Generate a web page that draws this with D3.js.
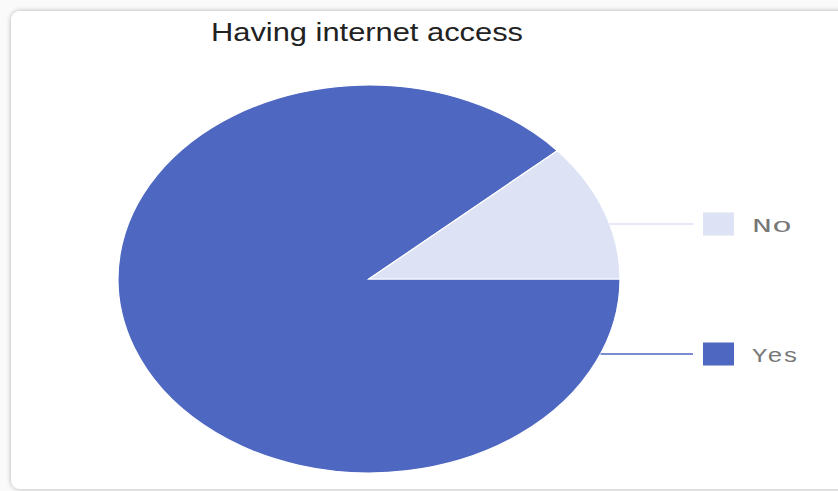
<!DOCTYPE html>
<html>
<head>
<meta charset="utf-8">
<script src="https://cdn.jsdelivr.net/npm/d3@7"></script>
<style>
  body { margin: 0; background: #fafafa; }
  svg { display: block; }
</style>
</head>
<body>
<svg id="chart" width="838" height="491"></svg>
<script>
const title = 'Having internet access';
const categories = ['Yes', 'No'];
const values = [88.5, 11.5];
const colors = ['#4e67c1', '#dde2f4'];
const legendOrder = ['No', 'Yes'];

const svg = d3.select('#chart');
const width = 838;

// card
const defs = svg.append('defs');
const f = defs.append('filter').attr('id', 'shadow')
    .attr('x', '-5%').attr('y', '-5%').attr('width', '110%').attr('height', '110%');
f.append('feDropShadow').attr('dx', 0).attr('dy', 0).attr('stdDeviation', 2.5)
    .attr('flood-color', '#000').attr('flood-opacity', 0.3);

svg.append('rect')
    .attr('x', 11).attr('y', 11)
    .attr('width', width + 20).attr('height', 478)
    .attr('rx', 9)
    .attr('fill', '#fff')
    .attr('filter', 'url(#shadow)');

// the picture is stretched sideways, so the texts are too
svg.append('text')
    .attr('x', 211).attr('y', 41)
    .attr('font-family', 'Liberation Sans, Arial, sans-serif')
    .attr('font-size', 25)
    .attr('fill', '#222')
    .attr('textLength', 312)
    .attr('lengthAdjust', 'spacingAndGlyphs')
    .text(title);

// pie, squashed into an ellipse
const cx = 369, cy = 279, rx = 251, ry = 194;
const r = 100;

const color = d3.scaleOrdinal().domain(categories).range(colors);

const pie = d3.pie()
    .sort(null)
    .value(d => d.value)
    .startAngle(Math.PI / 2)
    .endAngle(Math.PI / 2 + 2 * Math.PI);

const arc = d3.arc().innerRadius(0).outerRadius(r);

const data = categories.map((c, i) => ({name: c, value: values[i]}));

const g = svg.append('g')
    .attr('transform', `translate(${cx},${cy}) scale(${rx / r},${ry / r})`);

g.selectAll('path')
    .data(pie(data))
    .join('path')
    .attr('d', arc)
    .attr('fill', d => color(d.data.name))
    .attr('stroke', '#fff')
    .attr('stroke-width', 1.2)
    .attr('vector-effect', 'non-scaling-stroke');

// legend with leader lines
const ly = d3.scalePoint().domain(legendOrder).range([224, 354]);
const boxX = 703, boxW = 31, boxH = 23;
const labelW = {No: 40, Yes: 46};

const leg = svg.append('g');
legendOrder.forEach(name => {
  const y = ly(name);
  const t = (y - cy) / ry;
  const x0 = cx + rx * Math.sqrt(1 - t * t);
  leg.append('line')
      .attr('x1', x0).attr('x2', boxX - 10)
      .attr('y1', y).attr('y2', y)
      .attr('stroke', color(name))
      .attr('stroke-width', 1.5);
  leg.append('rect')
      .attr('x', boxX).attr('y', y - boxH / 2)
      .attr('width', boxW).attr('height', boxH)
      .attr('fill', color(name));
  leg.append('text')
      .attr('x', 752).attr('y', y + 8)
      .attr('font-family', 'Liberation Mono, Courier New, monospace')
      .attr('font-size', 21)
      .attr('fill', '#777')
      .attr('textLength', labelW[name])
      .attr('lengthAdjust', 'spacingAndGlyphs')
      .text(name);
});
</script>
</body>
</html>
